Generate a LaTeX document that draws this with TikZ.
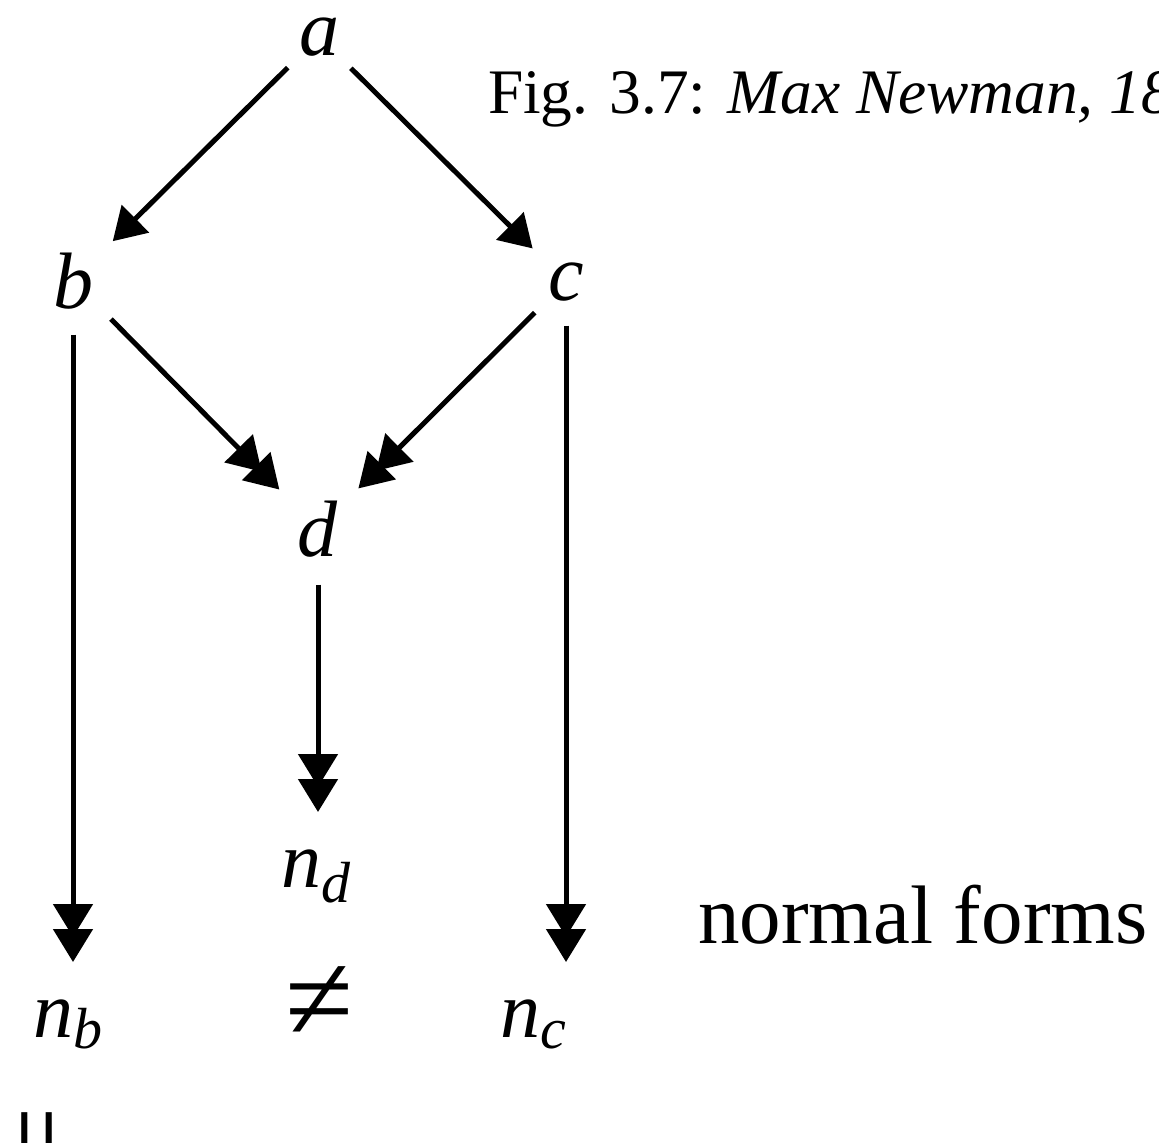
\documentclass[tikz,border=0pt]{standalone}
\usepackage{fontspec}
\setmainfont{Liberation Serif}
\usetikzlibrary{arrows.meta}
\begin{document}
\begin{tikzpicture}[x=0.5pt,y=-0.5pt,
  lbl/.style={inner sep=0pt, outer sep=0pt, font=\fontsize{40}{48}\selectfont},
  edge/.style={line width=2.5pt},
  one/.style={edge, -{Triangle[length=16pt,width=19pt]}},
  dbl/.style={edge, -{Triangle[length=16.5pt,width=19.5pt,sep=-4pt]Triangle[length=16.5pt,width=19.5pt]}}]
\useasboundingbox (0,0) rectangle (1159,1142);
\clip (0,0) rectangle (1159,1142);
% nodes
\node[lbl, anchor=base] (a) at (319,55) {\textit{a}};
\node[lbl, anchor=base] (b) at (73,308) {\textit{b}};
\node[lbl, anchor=base] (c) at (566,300) {\textit{c}};
\node[lbl, anchor=base] (d) at (318,556) {\textit{d}};
\node[lbl, anchor=base west] (nd) at (281,887) {\textit{n}\raisebox{-7.5pt}{\fontsize{29}{29}\selectfont\textit{d}}};
\node[lbl, anchor=base west] (nb) at (33,1037) {\textit{n}\raisebox{-5.5pt}{\fontsize{29}{29}\selectfont\textit{b}}};
\node[lbl, anchor=base west] (nc) at (500,1037) {\textit{n}\raisebox{-5.5pt}{\fontsize{29}{29}\selectfont\textit{c}}};
\node[lbl, font=\fontsize{62}{62}\selectfont] (neq) at (320,1004) {≠};
\node[lbl, anchor=center, rotate=90, font=\fontsize{61}{61}\selectfont] (eqb) at (50,1141) {=};
\node[lbl, anchor=base west, font=\fontsize{41.5}{48}\selectfont] (nf) at (698,943) {normal forms};
\node[lbl, anchor=base west, font=\fontsize{31.7}{36}\selectfont] (cap) at (488,113) {Fig. 3.7: \textit{Max Newman, 18}};
% connectors
\draw[one, shorten <=22pt, shorten >=28pt] (a.center) -- (b.center);
\draw[one, shorten <=22.5pt, shorten >=23.5pt] (a.center) -- (c.center);
\draw[dbl, shorten <=27pt, shorten >=27.5pt] (b.center) -- (d.center);
\draw[dbl, shorten <=22pt, shorten >=28.5pt] (c.center) -- (d.center);
\draw[dbl, shorten <=27pt, shorten >=37.5pt] (b.center) -- (b.center |- nb.base);
\draw[dbl, shorten <=28pt, shorten >=37.5pt] (d.center) -- (d.center |- nd.base);
\draw[dbl, shorten <=22pt, shorten >=37.5pt] (c.center) -- (c.center |- nc.base);
\end{tikzpicture}
\end{document}
